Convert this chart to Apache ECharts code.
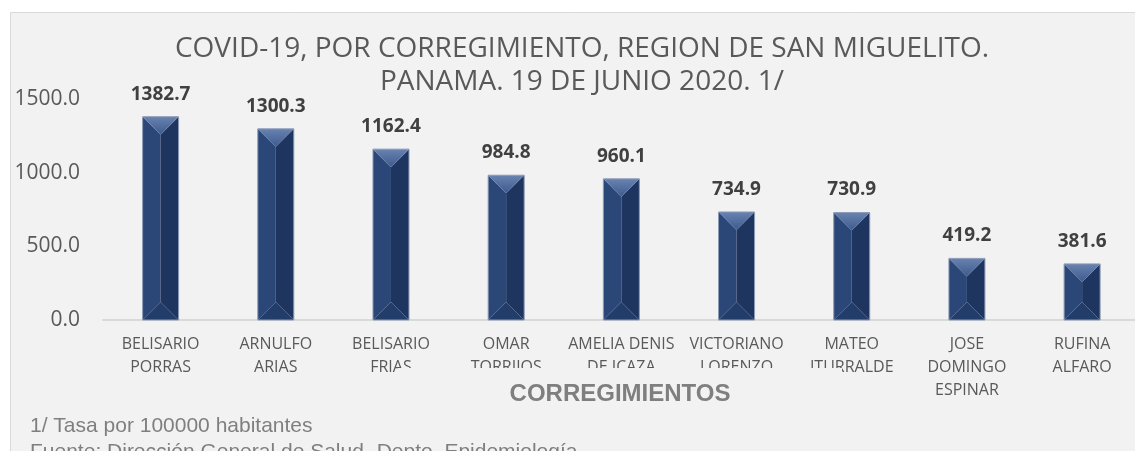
<!DOCTYPE html>
<html>
<head>
<meta charset="utf-8">
<script src="https://cdn.jsdelivr.net/npm/echarts@6/dist/echarts.min.js"></script>
<style>
html,body{margin:0;padding:0;background:#ffffff;}
#chart{width:1135px;height:451px;}
</style>
</head>
<body>
<div id="chart"></div>
<script>
var categories = [
  'BELISARIO\nPORRAS',
  'ARNULFO\nARIAS',
  'BELISARIO\nFRIAS',
  'OMAR\nTORRIJOS',
  'AMELIA DENIS\nDE ICAZA',
  'VICTORIANO\nLORENZO',
  'MATEO\nITURRALDE',
  'JOSE\nDOMINGO\nESPINAR',
  'RUFINA\nALFARO'
];
var rates = [1382.7, 1300.3, 1162.4, 984.8, 960.1, 734.9, 730.9, 419.2, 381.6];
var yTicks = [0, 500, 1000, 1500];
var titleLines = ['COVID-19, POR CORREGIMIENTO, REGION DE SAN MIGUELITO.', 'PANAMA. 19 DE JUNIO 2020. 1/'];
var axisTitle = 'CORREGIMIENTOS';
var footnotes = ['1/ Tasa por 100000 habitantes', 'Fuente: Dirección General de Salud- Depto. Epidemiología'];

var chart = echarts.init(document.getElementById('chart'));

function bevelBar(params, api) {
  var cat = api.value(0);
  var val = api.value(1);
  var top = api.coord([cat, val]);
  var base = api.coord([cat, 0]);
  var w = api.size([1, 0])[0] * 0.3125;
  var xc = top[0], x0 = xc - w / 2, x1 = xc + w / 2;
  var y0 = top[1], y1 = base[1];
  var d = Math.min(w / 2, (y1 - y0) / 2);
  return {
    type: 'group',
    children: [
      { type: 'polygon', shape: { points: [[x0, y0], [xc, y0 + d], [xc, y1 - d], [x0, y1]] },
        style: { fill: '#2b4778' } },
      { type: 'polygon', shape: { points: [[x1, y0], [xc, y0 + d], [xc, y1 - d], [x1, y1]] },
        style: { fill: '#1e3560' } },
      { type: 'polygon', shape: { points: [[x0, y0], [x1, y0], [xc, y0 + d]] },
        style: { fill: new echarts.graphic.LinearGradient(0, 0, 0, 1, [
          { offset: 0, color: '#6883b0' }, { offset: 1, color: '#3e5a8e' }]) } },
      { type: 'polygon', shape: { points: [[x0, y1], [x1, y1], [xc, y1 - d]] },
        style: { fill: '#233d6b' } },
      { type: 'rect', shape: { x: x0, y: y0, width: w, height: y1 - y0 },
        style: { fill: 'none', stroke: '#8c9ab5', lineWidth: 1 } }
    ]
  };
}

var option = {
  animation: false,
  backgroundColor: 'transparent',
  graphic: [
    { type: 'rect', z: -100, silent: true,
      shape: { x: 10.5, y: 12.5, width: 1300, height: 600 },
      style: { fill: '#f2f2f2', stroke: '#d9d9d9', lineWidth: 1 } },
    { type: 'rect', z: 99, silent: true,
      shape: { x: 398, y: 368, width: 444, height: 50 },
      style: { fill: '#f2f2f2' } },
    { type: 'text', z: 100, silent: true,
      x: 620, y: 394,
      style: { text: axisTitle, fontFamily: 'Liberation Sans', fontSize: 24, fontWeight: 'bold',
        fill: '#7f7f7f', align: 'center', verticalAlign: 'middle' } }
  ],
  title: [
    {
      text: titleLines.join('\n'),
      left: 577,
      top: 28,
      textAlign: 'center',
      textStyle: { fontFamily: 'Open Sans', fontSize: 28, fontWeight: 'normal', color: '#595959', lineHeight: 33 }
    },
    {
      text: footnotes.join('\n'),
      left: 25,
      top: 408,
      textStyle: { fontFamily: 'Liberation Sans', fontSize: 21, fontWeight: 'normal', color: '#7f7f7f', lineHeight: 26 }
    }
  ],
  grid: { left: 103, right: -4.7, top: 99.5, bottom: 131, containLabel: false, outerBoundsMode: 'none' },
  xAxis: {
    type: 'category',
    data: categories,
    axisLine: { show: true, lineStyle: { color: '#d9d9d9', width: 2 } },
    axisTick: { show: false },
    axisLabel: { interval: 0, margin: 13, fontFamily: 'Open Sans', fontSize: 16, color: '#595959', lineHeight: 23 }
  },
  yAxis: {
    type: 'value',
    min: yTicks[0],
    max: yTicks[yTicks.length - 1],
    interval: yTicks[1] - yTicks[0],
    splitLine: { show: false },
    axisLine: { show: false },
    axisTick: { show: false },
    axisLabel: { margin: 23, fontFamily: 'Open Sans', fontSize: 21, color: '#595959',
      formatter: function (v) { return v.toFixed(1); } }
  },
  series: [
    {
      type: 'bar',
      data: rates,
      barWidth: '31.25%',
      silent: true,
      itemStyle: { color: 'rgba(0,0,0,0)' },
      label: { show: true, position: 'top', distance: 13, fontFamily: 'Open Sans', fontWeight: 'bold',
        fontSize: 19, color: '#404040', formatter: function (p) { return p.value.toFixed(1); } },
      z: 3
    },
    {
      type: 'custom',
      data: categories.map(function (c, i) { return [c, rates[i]]; }),
      encode: { x: 0, y: 1 },
      renderItem: bevelBar,
      silent: true,
      z: 2
    }
  ]
};
chart.setOption(option);
</script>
</body>
</html>
